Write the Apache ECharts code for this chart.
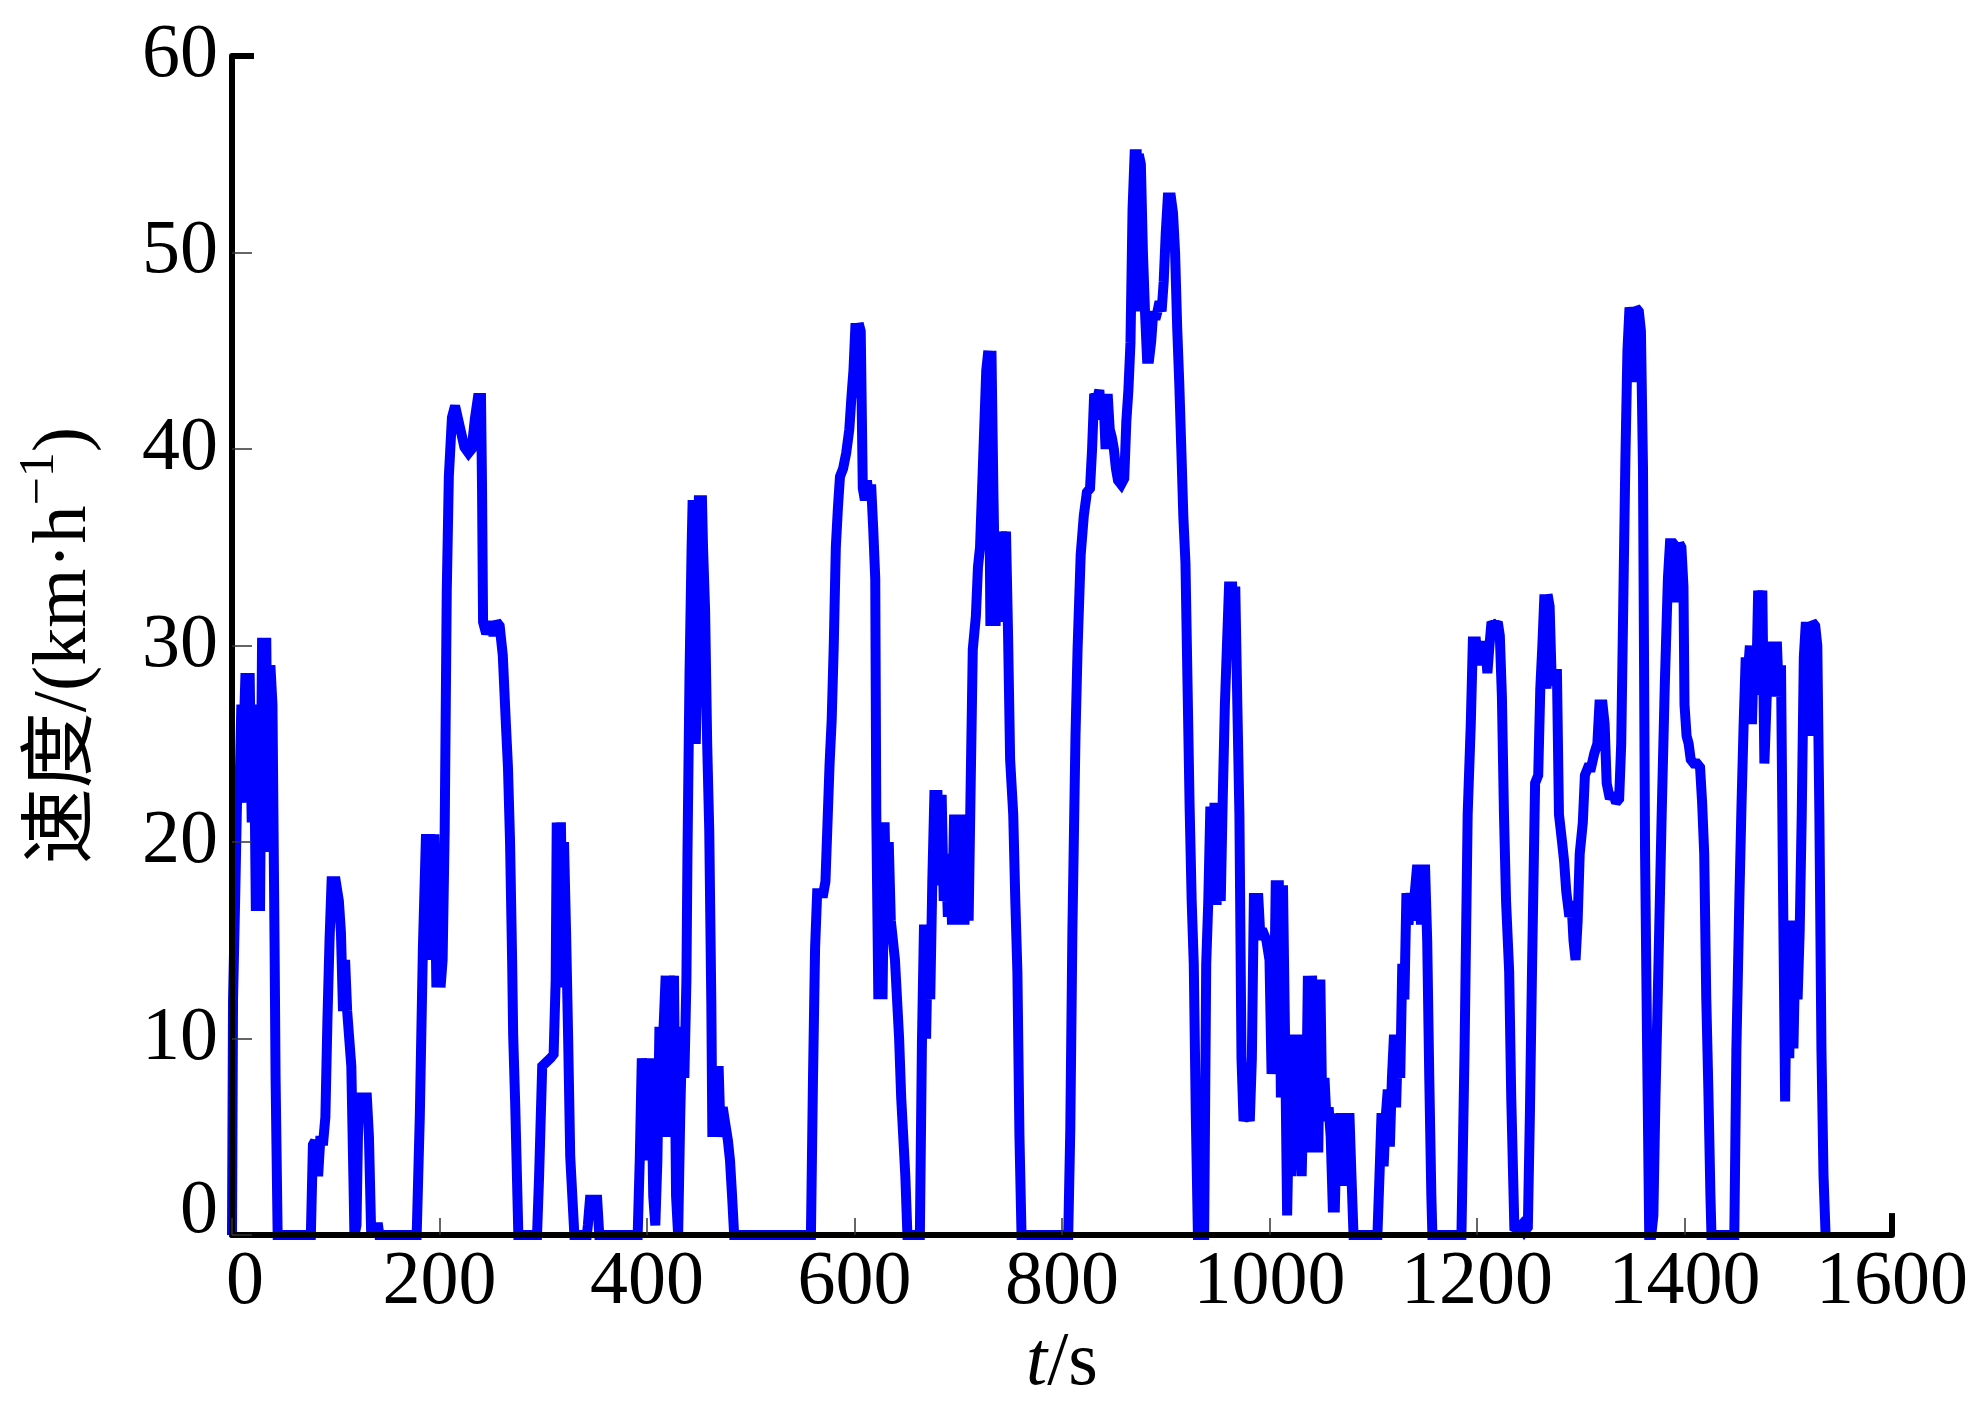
<!DOCTYPE html>
<html>
<head>
<meta charset="utf-8">
<script src="https://cdn.jsdelivr.net/npm/echarts@6/dist/echarts.min.js"></script>
<style>
html,body{margin:0;padding:0;background:#ffffff;}
#chart{width:1971px;height:1407px;}
</style>
</head>
<body>
<div id="chart"></div>
<script>
// Axis settings (values)
const xMin = 0, xMax = 1600, xStep = 200;
const yMin = 0, yMax = 60, yStep = 10;
const xTitle = '{i|t}{n|/s}';
const yTitle = '{a|速度/(km·h}{s|−1}{a|)}';

// Speed trace: [time (s), speed (km/h)]
const trace = [
  [0,0],[1,12],[3,17],[5,22.5],[7,22],[9,27],[11,25],[13,28.6],[15,22],[17,28.6],[19,21],[21,27],[23,16.5],[25,24],[27,16.5],[29,30.4],[31,20],[33,30.4],[35,19.5],[37,29],[39,27],[41,15],[42,8],[44,0],
  [76,0],[78,4.6],[80,4.8],[83,3],[85,4.8],[88,4.8],[90,6],[92,11],[94,15],[96,18],[100,18],[103,17],[105,15.4],[107,11.4],[109,14],[111,11.4],[113,10],[115,8.6],[117,3],[118,0],[120,0.5],[122,7],[126,7],[130,7],[132,5],[134,0.4],[141,0.4],[142,0],
  [178,0],[181,6],[184,14.6],[187,20.4],[189,15],[191,20.4],[193,14],[195,20.4],[197,12.6],[199,18],[201,12.6],[203,14],[205,20.6],[207,32.8],[209,38.6],[212,41.6],[215,42.2],[218,41.5],[221,40.8],[224,40.1],[228,39.8],[231,40],[234,41.5],[237,42.6],[240,42.6],[241,38],[242,31.2],[245,30.6],[249,31.2],[252,30.5],[255,31.2],[258,31],[261,29.5],[264,26],[266,23.8],[268,20],[270,14],[271,10.2],[273,6.6],[276,0],
  [294,0],[296,3],[299,8.6],[303,8.8],[307,9],[310,9.2],[312,13],[313,21],[315,16],[317,21],[319,12.6],[320,20],[322,15.4],[324,10],[326,4],[330,0],
  [342,0],[343,0.5],[345,1.8],[352,1.8],[354,0],
  [391,0],[393,3.8],[395,9],[398,4],[400,9],[402,3.8],[404,9],[406,2],[408,0.5],[410,3.8],[412,10.6],[414,5],[416,10.6],[418,13.2],[420,5],[422,13.2],[424,6],[426,13.2],[428,2],[430,0],[432,6],[434,10.6],[436,8],[438,13],[439,19.4],[441,28.6],[443,35],[444,37.4],[446,33],[447,25],[449,30],[450,37.4],[453,37.4],[454,35],[456,31.8],[458,25],[460,20.6],[462,11.8],[463,5],[465,8.6],[467,5],[469,8.6],[471,5],[473,6.5],[475,5.8],[478,4.8],[480,3.8],[482,2],[484,0],
  [558,0],[560,8],[562,14.6],[564,17.4],[567,17.4],[570,17.4],[572,18],[574,21],[576,24],[578,26.2],[580,30],[582,35],[584,37],[586,38.6],[589,39],[592,39.8],[595,41],[597,42.6],[599,44],[601,46.4],[603,42.6],[604,46.4],[606,46],[607,42],[608,38],[610,37.4],[612,38.4],[614,37.4],[616,38.2],[618,36],[620,33.4],[621,21.4],[623,12],[625,21],[627,12],[629,21],[631,15],[633,20],[635,16],[637,15],[639,14],[641,12],[643,10],[645,7],[647,5],[649,3],[651,0],
  [663,0],[665,9.8],[667,15.8],[669,10],[671,15.8],[673,12],[675,18],[677,22.4],[680,22.4],[682,17.8],[684,22.4],[686,17],[688,19.4],[690,16.2],[692,19.4],[694,15.8],[696,21.4],[698,15.8],[700,21.4],[702,16],[704,21.4],[706,15.8],[708,21.4],[710,16],[712,23],[714,29.8],[717,31.5],[719,34],[721,35],[723,38],[725,41],[727,44],[729,45],[731,31],[732,45],[734,37.4],[736,31],[738,35.8],[740,31.2],[742,35.8],[744,34],[746,35.8],[748,30.6],[750,24.2],[753,21.4],[755,17],[757,13.4],[759,5],[761,0],
  [806,0],[808,5.4],[810,15.4],[813,25.4],[815,29.8],[818,34.6],[821,36.6],[824,37.8],[827,38],[829,40],[831,42.8],[834,42.6],[836,43],[838,41.5],[840,42.6],[842,40],[844,42.8],[846,41],[848,40.6],[850,40],[852,39],[854,38.4],[857,38.2],[860,38.5],[862,41.4],[864,43],[866,45.4],[868,52.2],[870,55],[872,55],[873,47],[874,55],[876,54.5],[878,50],[880,47],[882,44.6],[884,44.6],[886,45.5],[888,47],[890,46.6],[892,47],[894,47.5],[896,47],[898,48.5],[900,51],[902,52.8],[905,52.8],[907,52],[909,50],[911,46.2],[913,43.4],[915,40],[917,36.5],[919,34.2],[921,28],[923,21.8],[925,17],[927,13.8],[929,6],[931,0],
  [937,0],[939,13.8],[941,17],[943,21.8],[945,17],[947,22],[949,16.8],[951,22],[953,17],[955,22.4],[957,27],[959,30],[961,33],[964,33],[966,29.4],[967,33],[969,27],[971,21.4],[973,9],[975,5.8],[978,6.5],[981,5.8],[983,9],[985,17.4],[987,15],[989,17.4],[991,15.4],[994,15.4],[997,15],[1000,14],[1002,8.2],[1004,10],[1006,17.8],[1009,17.8],[1011,7],[1013,17.8],[1015,10],[1017,1],[1019,7],[1021,3],[1023,10.2],[1025,4],[1027,10.2],[1029,6],[1031,3],[1033,8],[1035,5],[1037,13.2],[1039,4.2],[1041,13.2],[1043,6],[1045,13],[1047,4.2],[1049,13],[1051,5.8],[1053,8],[1055,5.8],[1057,6.5],[1059,5],[1061,1.4],[1063,1.4],[1065,6.2],[1067,3.4],[1069,6.2],[1071,2.5],[1073,6.2],[1075,3],[1077,6.2],[1079,3],[1081,0],
  [1104,0],[1106,3],[1108,6.2],[1110,3.5],[1112,6],[1114,7.4],[1116,4.5],[1118,8],[1120,10.2],[1122,6.5],[1124,10.2],[1126,8],[1128,13.8],[1130,12],[1132,17.4],[1134,15.8],[1136,17.4],[1138,16],[1140,17.4],[1142,18.6],[1144,18.6],[1146,15.8],[1148,18.6],[1150,18.6],[1152,15],[1154,8],[1156,2],[1157,0],
  [1185,0],[1188,9.4],[1191,21.4],[1194,26],[1196,30.2],[1199,30.2],[1201,29],[1203,30.2],[1206,29.5],[1208,30.2],[1210,28.6],[1212,30],[1214,31.2],[1217,31],[1220,31.2],[1222,30.5],[1224,27.4],[1226,21.4],[1228,17],[1231,13.4],[1233,7],[1236,0.4],[1240,0.3],[1243,0.5],[1246,0.2],[1249,0.4],
  [1251,6.2],[1253,13.4],[1256,23],[1259,23.4],[1261,27.8],[1263,30],[1265,32.6],[1267,27.8],[1268,32.6],[1270,32],[1272,28.2],[1275,28.2],[1277,28.8],[1279,21.4],[1282,20],[1284,19],[1286,17.5],[1289,16.2],[1291,17],[1293,15],[1295,14],[1297,16],[1299,19.4],[1302,21],[1304,23.4],[1307,23.8],[1310,23.8],[1313,24.5],[1316,25],[1318,27],[1321,27],[1323,26],[1325,23],[1328,22.2],[1331,22.5],[1334,22],[1337,22.2],[1339,25],[1341,32.2],[1343,39.4],[1345,45],[1347,47.2],[1350,46.5],[1351,43.4],[1353,47.2],[1356,47],[1358,46],[1360,39],[1362,19.4],[1364,9.4],[1366,0],
  [1368,0],[1370,1],[1372,7],[1375,14],[1378,21.4],[1381,28],[1384,33.4],[1386,35.2],[1389,35.2],[1392,35],[1393,32.2],[1395,35.2],[1397,35],[1399,33],[1400,27],[1402,25.4],[1404,25],[1406,24.2],[1409,24],[1412,24],[1415,23.8],[1417,22],[1419,19.4],[1421,12],[1423,7.4],[1425,2],[1426,0],
  [1448,0],[1450,9.4],[1453,17.4],[1455,22],[1457,26],[1459,29.4],[1461,28.5],[1463,30],[1465,26],[1467,30],[1469,27.5],[1471,32.8],[1473,30],[1475,32.8],[1477,24],[1479,27],[1481,30.2],[1483,27.4],[1485,30.2],[1487,28],[1489,30.2],[1491,27.4],[1493,29],[1495,17.4],[1497,6.8],[1499,16],[1501,9],[1503,16],[1505,9.5],[1507,15],[1509,12],[1511,15.4],[1513,21.4],[1515,29.4],[1517,31.2],[1519,30],[1521,25.4],[1523,31.2],[1526,31],[1528,30],[1530,21.4],[1532,9.4],[1534,3],[1536,0]
];

const FONT = "'Liberation Serif','Times New Roman','Noto Sans CJK SC',serif";
const txt = {fontFamily: FONT, fontSize: 76, color: '#000'};

const chart = echarts.init(document.getElementById('chart'), null, {renderer: 'canvas'});
chart.setOption({
  animation: false,
  backgroundColor: '#ffffff',
  grid: {left: 232, top: 56, right: 78, bottom: 151, containLabel: false},
  xAxis: [{
    type: 'value', min: xMin, max: xMax, interval: xStep, z: 3,
    axisLine: {show: true, onZero: false, lineStyle: {color: '#000', width: 6}},
    axisTick: {show: true, inside: true, length: 17, lineStyle: {color: '#333', width: 1.5}},
    axisLabel: Object.assign({margin: 10,
      formatter: v => v === 0 ? '{z|0}' : String(v),
      rich: {z: Object.assign({padding: [0, 0, 0, 26]}, txt)}}, txt),
    splitLine: {show: false},
    name: xTitle, nameLocation: 'middle', nameGap: 66,
    nameTextStyle: {rich: {
      i: Object.assign({fontStyle: 'italic'}, txt),
      n: Object.assign({}, txt)
    }}
  }, {
    type: 'value', min: xMin, max: xMax, position: 'bottom', z: 3,
    axisLine: {show: false}, axisLabel: {show: false}, splitLine: {show: false},
    axisTick: {show: true, inside: true, length: 22, customValues: [xMax], lineStyle: {color: '#000', width: 6}}
  }],
  yAxis: [{
    type: 'value', min: yMin, max: yMax, interval: yStep, z: 3,
    axisLine: {show: true, onZero: false, lineStyle: {color: '#000', width: 6}},
    axisTick: {show: true, inside: true, length: 20, lineStyle: {color: '#333', width: 1.5}},
    axisLabel: Object.assign({margin: 14,
      formatter: v => v === 0 ? '{z|0}' : String(v),
      rich: {z: Object.assign({padding: [0, 0, 46, 0]}, txt)}}, txt),
    splitLine: {show: false},
    name: yTitle, nameLocation: 'middle', nameGap: 122, nameRotate: 90,
    nameTextStyle: {rich: {
      a: Object.assign({lineHeight: 90}, txt),
      s: {fontFamily: FONT, fontSize: 50, color: '#000', lineHeight: 40, padding: [0, 0, 50, 0]}
    }}
  }, {
    type: 'value', min: yMin, max: yMax, position: 'left', z: 3,
    axisLine: {show: false}, axisLabel: {show: false}, splitLine: {show: false},
    axisTick: {show: true, inside: true, length: 22, customValues: [yMax], lineStyle: {color: '#000', width: 6}}
  }],
  series: [{
    type: 'line', xAxisIndex: 0, yAxisIndex: 0, z: 2,
    data: trace, symbol: 'none', showSymbol: false, clip: false,
    lineStyle: {color: '#0000FF', width: 10, join: 'miter', miterLimit: 2, cap: 'butt'}
  }]
});
</script>
</body>
</html>
